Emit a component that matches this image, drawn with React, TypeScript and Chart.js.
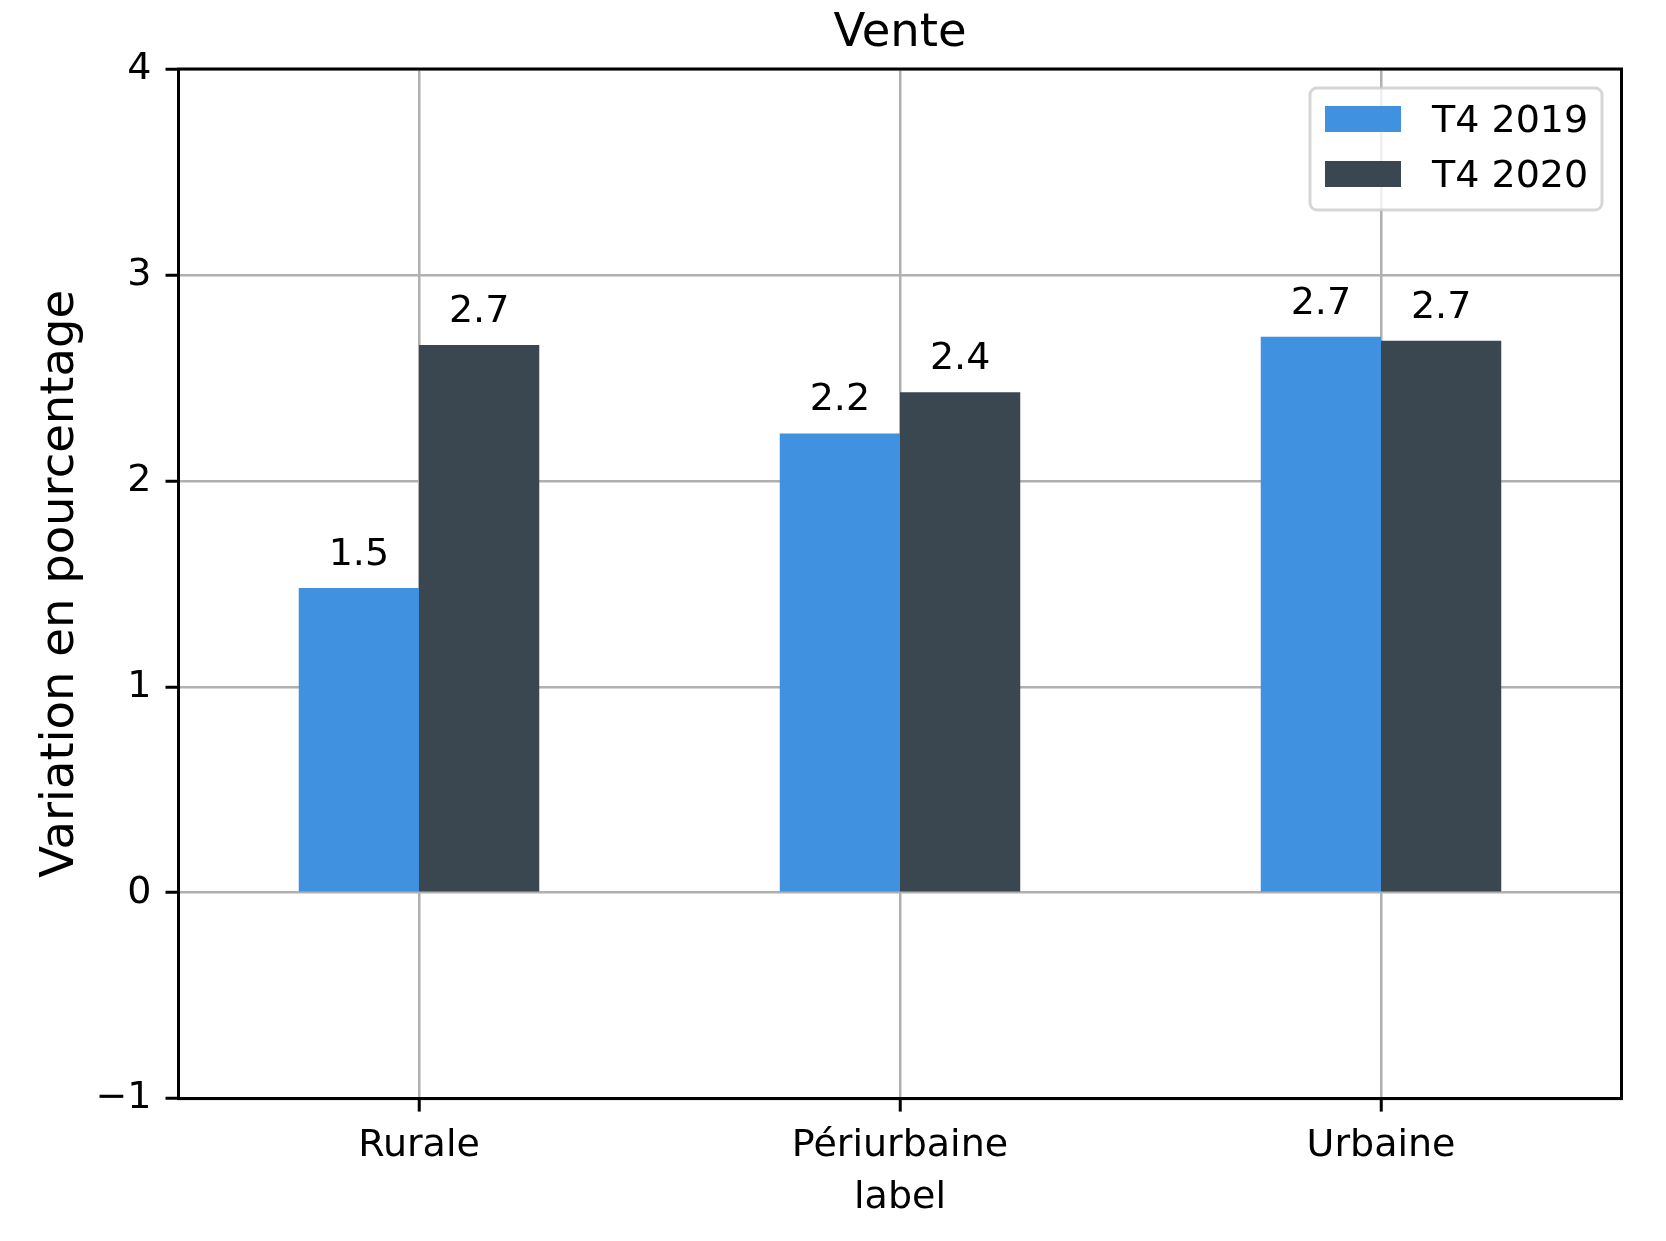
import React, { useEffect, useRef } from 'react';
import { Chart, registerables } from 'chart.js';

Chart.register(...registerables);

const categories = ['Rurale', 'Périurbaine', 'Urbaine'];
const seriesNames = ['T4 2019', 'T4 2020'];
const values2019 = [1.48, 2.23, 2.7];
const values2020 = [2.66, 2.43, 2.68];
const barLabels2019 = ['1.5', '2.2', '2.7'];
const barLabels2020 = ['2.7', '2.4', '2.7'];
const yMin = -1;
const yMax = 4;
const seriesColors = ['#4191e1', '#3a4750'];
const chartTitle = 'Vente';
const xTitle = 'label';
const yTitle = 'Variation en pourcentage';

const FONT = '"DejaVu Sans", "Liberation Sans", sans-serif';

const W = 1666;
const H = 1241;
const PLOT_LEFT = 178.5;
const PLOT_RIGHT = 1621.5;
const PLOT_TOP = 69;
const PLOT_BOTTOM = 1098.6;
const SMALL = 38;
const BIG = 46.5;

export default function App() {
  const ref = useRef<HTMLCanvasElement | null>(null);

  useEffect(() => {
    document.body.style.margin = '0';
    const canvas = ref.current;
    if (!canvas) return;

    const labelsBySeries = [barLabels2019, barLabels2020];

    const overlay = {
      id: 'overlay',
      afterDraw(chart: any) {
        const ctx = chart.ctx as CanvasRenderingContext2D;
        const ca = chart.chartArea;
        ctx.save();
        // spines
        ctx.strokeStyle = '#000';
        ctx.lineWidth = 3;
        ctx.strokeRect(ca.left, ca.top, ca.right - ca.left, ca.bottom - ca.top);

        // title
        ctx.fillStyle = '#000';
        ctx.font = `${BIG}px ${FONT}`;
        ctx.textAlign = 'center';
        ctx.textBaseline = 'middle';
        ctx.fillText(chartTitle, (ca.left + ca.right) / 2, 34);

        // bar value labels
        ctx.font = `${SMALL}px ${FONT}`;
        ctx.textBaseline = 'alphabetic';
        chart.data.datasets.forEach((_ds: any, i: number) => {
          const meta = chart.getDatasetMeta(i);
          meta.data.forEach((el: any, j: number) => {
            ctx.fillText(labelsBySeries[i][j], el.x, el.y - 23);
          });
        });

        // legend
        const bx = ca.right - 19.5 - 292;
        const by = ca.top + 19;
        const bw = 292;
        const bh = 122;
        ctx.beginPath();
        (ctx as any).roundRect(bx, by, bw, bh, 7);
        ctx.fillStyle = 'rgba(255,255,255,0.8)';
        ctx.fill();
        ctx.lineWidth = 3;
        ctx.strokeStyle = 'rgba(204,204,204,0.8)';
        ctx.stroke();
        ctx.textAlign = 'left';
        ctx.textBaseline = 'alphabetic';
        ctx.font = `${SMALL}px ${FONT}`;
        seriesNames.forEach((name, i) => {
          const py = by + 18 + i * 55;
          ctx.fillStyle = seriesColors[i];
          ctx.fillRect(bx + 15, py, 76, 26);
          ctx.fillStyle = '#000';
          ctx.fillText(name, bx + 122, py + 26);
        });
        ctx.restore();
      },
    };

    const chart = new Chart(canvas, {
      type: 'bar',
      data: {
        labels: categories,
        datasets: [
          {
            label: seriesNames[0],
            data: values2019,
            backgroundColor: seriesColors[0],
            borderWidth: 0,
            categoryPercentage: 0.5,
            barPercentage: 1.0,
          },
          {
            label: seriesNames[1],
            data: values2020,
            backgroundColor: seriesColors[1],
            borderWidth: 0,
            categoryPercentage: 0.5,
            barPercentage: 1.0,
          },
        ],
      },
      options: {
        responsive: false,
        animation: false,
        devicePixelRatio: 1,
        layout: {
          padding: { top: PLOT_TOP, right: W - PLOT_RIGHT, left: 0, bottom: 0 },
        },
        plugins: {
          legend: { display: false },
          title: { display: false },
          tooltip: { enabled: false },
        },
        scales: {
          x: {
            z: 1,
            offset: true,
            grid: {
              offset: false,
              color: '#b0b0b0',
              lineWidth: 2.5,
              drawTicks: true,
              tickLength: 13,
              tickColor: '#000',
              tickWidth: 3,
            },
            border: { display: true, color: '#000', width: 3 },
            ticks: {
              color: '#000',
              font: { family: FONT, size: SMALL },
              padding: 12,
              maxRotation: 0,
            },
            title: {
              display: true,
              text: xTitle,
              color: '#000',
              font: { family: FONT, size: SMALL },
              padding: { top: 0, bottom: 20 },
            },
            afterFit(scale: any) {
              scale.height = H - PLOT_BOTTOM;
            },
          },
          y: {
            z: 1,
            min: yMin,
            max: yMax,
            grid: {
              color: '#b0b0b0',
              lineWidth: 2.5,
              drawTicks: true,
              tickLength: 13,
              tickColor: '#000',
              tickWidth: 3,
            },
            border: { display: true, color: '#000', width: 3 },
            ticks: {
              stepSize: 1,
              color: '#000',
              font: { family: FONT, size: SMALL },
              padding: 14,
              callback: (v: any) => String(v).replace('-', '\u2212'),
            },
            title: {
              display: true,
              text: yTitle,
              color: '#000',
              font: { family: FONT, size: BIG },
              padding: { top: 33, bottom: 0 },
            },
            afterFit(scale: any) {
              scale.width = PLOT_LEFT;
            },
          },
        },
      },
      plugins: [overlay],
    } as any);

    return () => chart.destroy();
  }, []);

  return <canvas ref={ref} width={W} height={H} style={{ display: 'block' }} />;
}
